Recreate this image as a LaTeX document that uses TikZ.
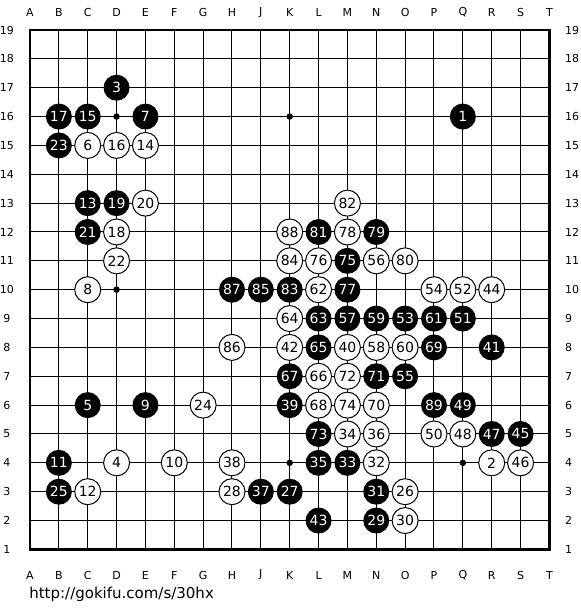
\documentclass[tikz,border=0pt]{standalone}
\usepackage{fontspec}
\setmainfont{DejaVu Sans}
\usepackage{tikz}
\usetikzlibrary{positioning}
\tikzset{
  stone/.style={circle,minimum size=26pt,inner sep=0pt,font=\fontsize{14}{14}\selectfont},
  bstone/.style={stone,fill=black,text=white},
  wstone/.style={stone,draw=black,line width=1pt,fill=white,text=black},
  coordlabel/.style={font=\fontsize{11}{11}\selectfont,inner sep=0pt},
  gridline/.style={line width=1pt},
  hoshi/.style={circle,fill=black,inner sep=0pt,minimum size=6.5pt},
}

\begin{document}
\begin{tikzpicture}[x=28.85pt,y=28.85pt]
  \useasboundingbox (-1.04,-1.10) rectangle (19.064,20.04);
  % board
  \foreach \i in {0,...,18} \draw[gridline] (\i,1) -- (\i,19);
  \foreach \j in {1,...,19} \draw[gridline] (0,\j) -- (18,\j);
  \draw[line width=2.6pt] (0,1) rectangle (18,19);
  \foreach \c/\r in {3/16,9/16,3/10,9/4,15/4}
    \node[hoshi] (h\c-\r) at (\c,\r) {};
  % coordinates
  \foreach \l [count=\i from 0] in {A,B,C,D,E,F,G,H,J,K,L,M,N,O,P,Q,R,S,T} {
    \node[coordlabel] (top\l) at (\i,19.62) {\l};
    \node[coordlabel] (bot\l) at (\i,0.11) {\l};
  }
  \foreach \r in {1,...,19} {
    \node[coordlabel] (left\r) at (-0.8,\r) {\r};
    \node[coordlabel,anchor=west] (right\r) at (18.54,\r) {\r};
  }
  % black moves
  \foreach \c/\r/\n in {15/16/1, 3/17/3, 2/6/5, 4/16/7, 4/6/9, 1/4/11, 2/13/13, 2/16/15,
      1/16/17, 3/13/19, 2/12/21, 1/15/23, 1/3/25, 9/3/27, 12/2/29, 12/3/31, 11/4/33,
      10/4/35, 8/3/37, 9/6/39, 16/8/41, 10/2/43, 17/5/45, 16/5/47, 15/6/49, 15/9/51,
      13/9/53, 13/7/55, 11/9/57, 12/9/59, 14/9/61, 10/9/63, 10/8/65, 9/7/67, 14/8/69,
      12/7/71, 10/5/73, 11/11/75, 11/10/77, 12/12/79, 10/12/81, 9/10/83, 8/10/85,
      7/10/87, 14/6/89}
    \node[bstone] (m\n) at (\c,\r) {\n};
  % white moves
  \foreach \c/\r/\n in {16/4/2, 3/4/4, 2/15/6, 2/10/8, 5/4/10, 2/3/12, 4/15/14, 3/15/16,
      3/12/18, 4/13/20, 3/11/22, 6/6/24, 13/3/26, 7/3/28, 13/2/30, 12/4/32, 11/5/34,
      12/5/36, 7/4/38, 11/8/40, 9/8/42, 16/10/44, 17/4/46, 15/5/48, 14/5/50, 15/10/52,
      14/10/54, 12/11/56, 12/8/58, 13/8/60, 10/10/62, 9/9/64, 10/7/66, 10/6/68, 12/6/70,
      11/7/72, 11/6/74, 10/11/76, 11/12/78, 13/11/80, 11/13/82, 9/11/84, 7/8/86, 9/12/88}
    \node[wstone] (m\n) at (\c,\r) {\n};
  % source
  \node[font=\fontsize{15}{15}\selectfont,inner sep=0pt,anchor=base west] (url) at (-0.03,-0.69)
    {http://gokifu.com/s/30hx};
\end{tikzpicture}
\end{document}
